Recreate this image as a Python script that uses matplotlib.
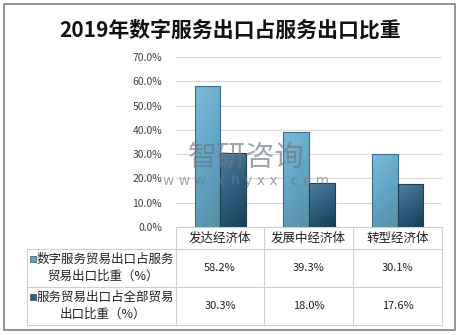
import numpy as np
import matplotlib
matplotlib.use("Agg")
import matplotlib.pyplot as plt
from matplotlib.patches import Rectangle
from matplotlib.colors import LinearSegmentedColormap

plt.rcParams['font.family'] = ['Noto Sans CJK SC', 'DejaVu Sans']

categories = ["发达经济体", "发展中经济体", "转型经济体"]
digital_share = [58.2, 39.3, 30.1]   # 数字服务贸易出口占服务贸易出口比重
service_share = [30.3, 18.0, 17.6]   # 服务贸易出口占全部贸易出口比重
row_labels = [["数字服务贸易出口占服务", "贸易出口比重（%）"],
              ["服务贸易出口占全部贸易", "出口比重（%）"]]
yticks = [0, 10, 20, 30, 40, 50, 60, 70]

W, H = 462, 335
fig = plt.figure(figsize=(W / 100, H / 100), dpi=100)

# background axes in pixel coordinates (y down) for frame, title and table
bg = fig.add_axes([0, 0, 1, 1])
bg.set_xlim(0, W)
bg.set_ylim(H, 0)
bg.axis("off")

bg.add_patch(Rectangle((4, 4), 451, 326, fill=False, ec="#8c8c8c", lw=1.3))
bg.text(230, 30, "2019年数字服务出口占服务出口比重", ha="center", va="center",
        fontsize=15, fontweight="bold", color="#111111")

# plot area
x0, x1, y0, y1 = 176, 442, 227, 57
ax = fig.add_axes([x0 / W, 1 - y0 / H, (x1 - x0) / W, (y0 - y1) / H])
ax.set_xlim(0, 3)
ax.set_ylim(0, 70)
ax.set_yticks(yticks)
ax.set_yticklabels([f"{v:.1f}%" for v in yticks], fontsize=7.5, color="#404040")
ax.set_xticks([])
ax.tick_params(axis="y", length=0, pad=10)
ax.grid(axis="y", color="#d9d9d9", lw=0.8)
ax.set_axisbelow(True)
for s in ["top", "right", "left"]:
    ax.spines[s].set_visible(False)
ax.spines["bottom"].set_color("#d0d0d0")

cmap1 = LinearSegmentedColormap.from_list("s1", ["#7cbad8", "#62a5c6", "#5a8ea5"])
cmap2 = LinearSegmentedColormap.from_list("s2", ["#4f7f9e", "#2f5f7e", "#173f58"])

bw = 0.29
x = np.arange(3) + 0.5
bars1 = ax.bar(x - bw / 2, digital_share, bw, color="none", ec="#3b6c86", lw=0.8, zorder=3)
bars2 = ax.bar(x + bw / 2, service_share, bw, color="none", ec="#1e3e52", lw=0.8, zorder=3)

# vertical gradient fill, slightly darker towards the right edge
grad = np.linspace(0, 1, 64).reshape(-1, 1) * np.ones((1, 8))
grad = grad + np.linspace(0, 0.35, 8).reshape(1, -1)
for bars, cm in [(bars1, cmap1), (bars2, cmap2)]:
    for b in bars:
        bx, by = b.get_x(), b.get_y()
        im = ax.imshow(grad, cmap=cm, aspect="auto", vmin=0, vmax=1.35,
                       extent=[bx, bx + b.get_width(), by, by + b.get_height()],
                       origin="upper", zorder=2)
        im.set_clip_path(b)
ax.set_xlim(0, 3)
ax.set_ylim(0, 70)

# watermark
fig.text(188 / W, 1 - 158 / H, "智研咨询", fontsize=21, color="#6f7780", alpha=0.65,
         ha="left", va="center")
fig.text(163 / W, 1 - 181 / H, "w w w . c h y x x . c o m", fontsize=10,
         color="#6f7780", alpha=0.65, ha="left", va="center", family="DejaVu Sans")

# data table
cols = [176, 264, 353, 442]
rows = [227, 249, 287, 325]
lc = "#d0d0d0"
for cx in cols:
    bg.plot([cx, cx], [227, 325], color=lc, lw=0.8)
for ry in rows[1:]:
    bg.plot([27, 442], [ry, ry], color=lc, lw=0.8)
bg.plot([27, 27], [249, 325], color=lc, lw=0.8)

centers = [(cols[i] + cols[i + 1]) / 2 for i in range(3)]
for cx, name in zip(centers, categories):
    bg.text(cx, 238, name, ha="center", va="center", fontsize=9, color="#222222")

series = [digital_share, service_share]
colors = ["#62a5c6", "#2f5f7e"]
for r, (vals, lbl, c) in enumerate(zip(series, row_labels, colors)):
    top, bot = rows[r + 1], rows[r + 2]
    mid = (top + bot) / 2
    bg.add_patch(Rectangle((30, mid - 12), 6, 6, fc=c, ec="#2a4a5e", lw=0.5))
    bg.text(105, mid - 9, lbl[0], ha="center", va="center", fontsize=9, color="#222222")
    bg.text(103, mid + 8, lbl[1], ha="center", va="center", fontsize=9, color="#222222")
    for cx, v in zip(centers, vals):
        bg.text(cx, mid, f"{v:.1f}%", ha="center", va="center", fontsize=8, color="#222222")

fig.savefig("out.png", dpi=100)
